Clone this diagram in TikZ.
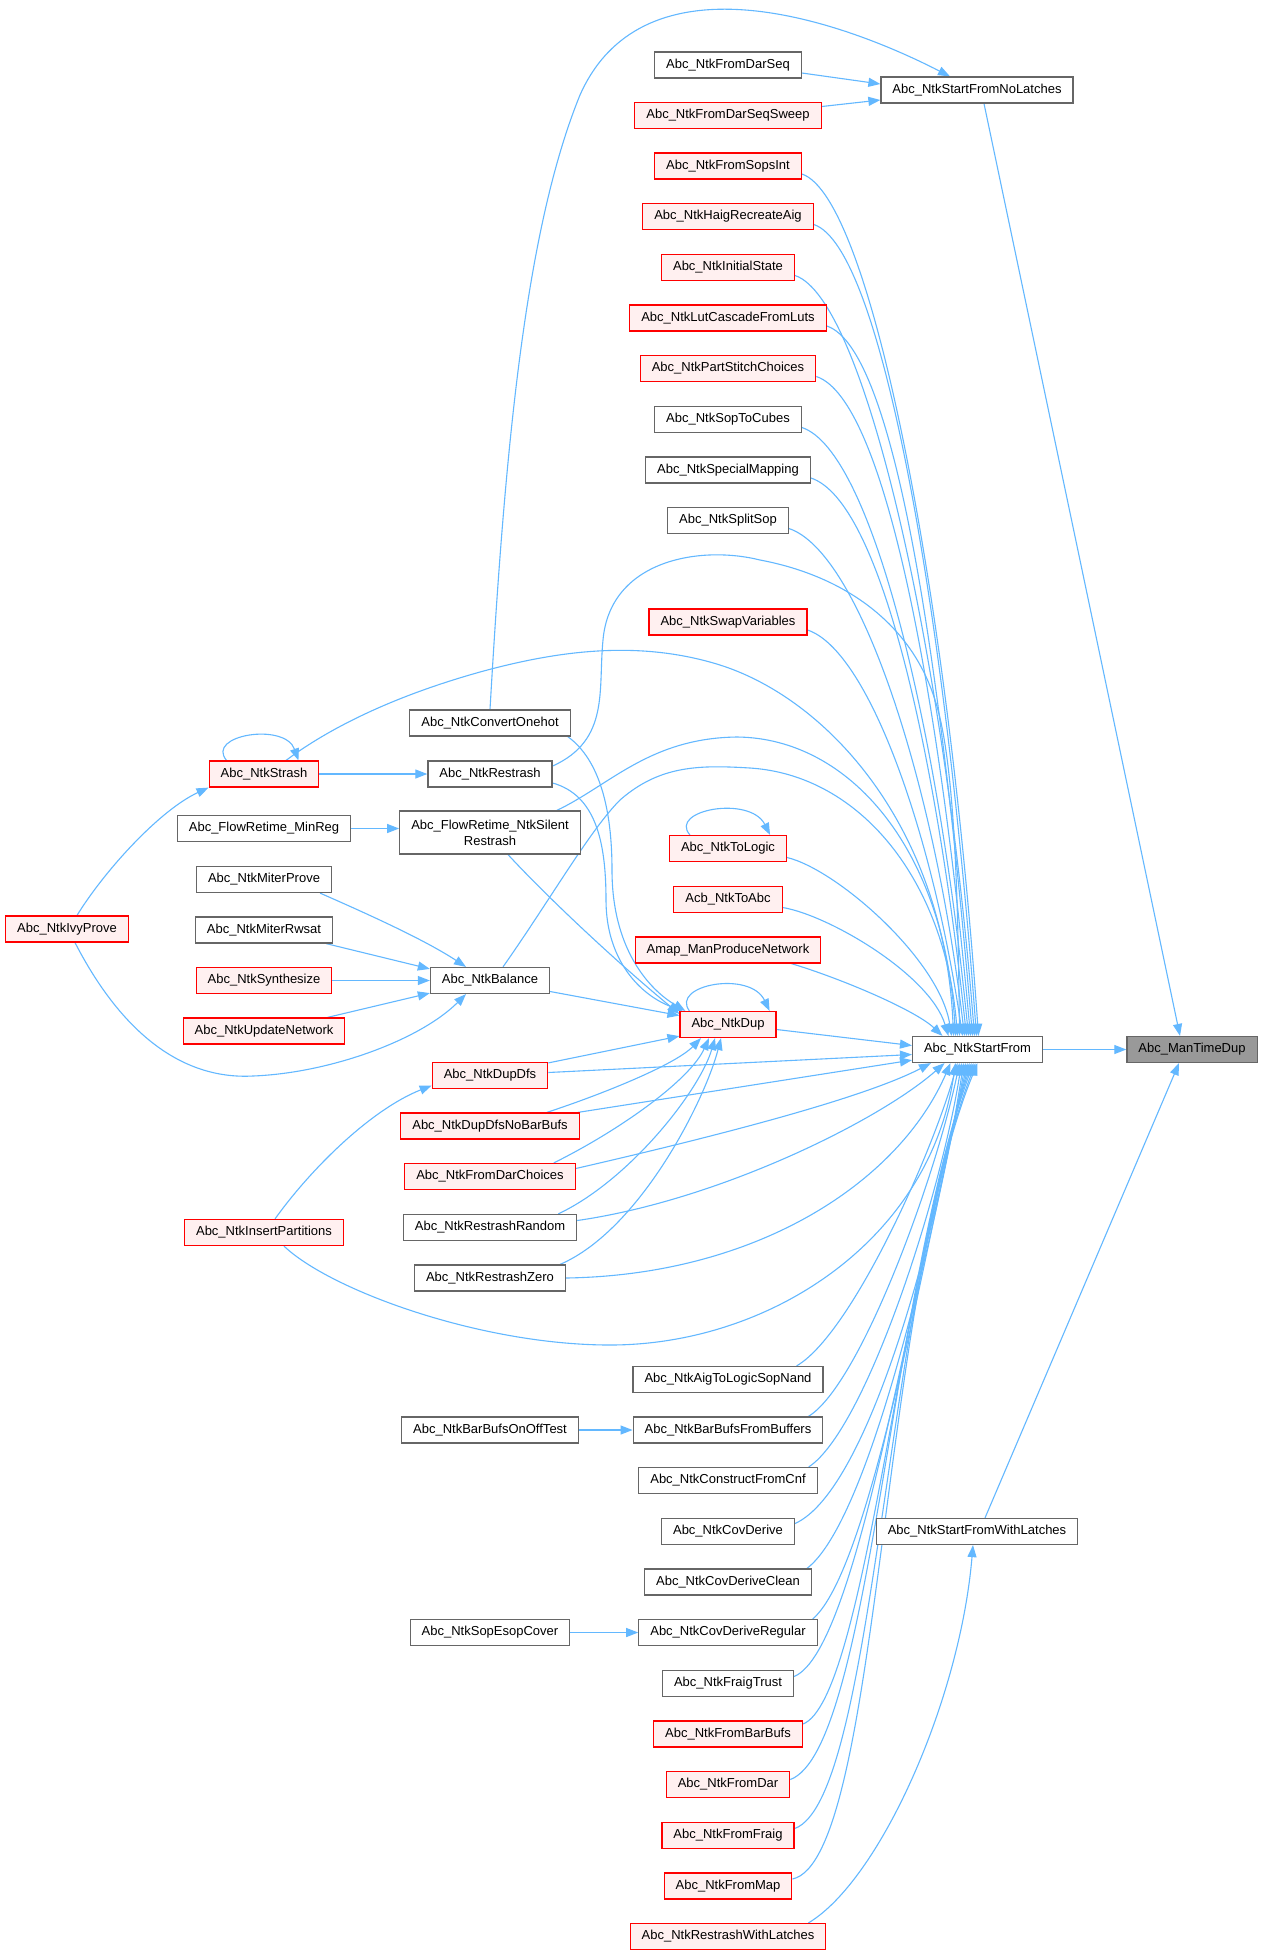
\documentclass[tikz,border=0pt]{standalone}
\usepackage{fontspec}
\setmainfont{Liberation Sans}
\usetikzlibrary{arrows.meta,calc}
\pgfdeclarelayer{bg}
\pgfsetlayers{bg,main}
\definecolor{edgec}{HTML}{63B8FF}
\definecolor{redb}{HTML}{FF0000}
\definecolor{redf}{HTML}{FFF0F0}
\definecolor{grayb}{HTML}{666666}
\definecolor{grayf}{HTML}{999999}
\begin{document}
\begin{tikzpicture}[x=1pt,y=-1pt,
 base/.style={rectangle, line width=1.2pt, minimum height=26pt, inner xsep=11.5pt, inner ysep=2pt,
   font=\fontsize{13}{16}\selectfont, text height=9.5pt, text depth=2.7pt, text=black},
 bn/.style={base, draw=grayb, fill=white},
 rn/.style={base, draw=redb, fill=redf},
 gn/.style={base, draw=grayb, fill=grayf},
 e/.style={draw=edgec, line width=1.1pt, -{Triangle[length=12pt,width=9pt]}}]
\begin{pgfonlayer}{bg}
\fill[white] (0,0) rectangle (1262,1955);
\end{pgfonlayer}
\useasboundingbox (0,0) rectangle (1262,1955);
% column A
\node[bn] (fdseq) at (728,65) {Abc\_NtkFromDarSeq};
\node[rn] (fdss) at (728,115.5) {Abc\_NtkFromDarSeqSweep};
\node[rn] (fsi) at (728,166) {Abc\_NtkFromSopsInt};
\node[rn] (hra) at (728,216.5) {Abc\_NtkHaigRecreateAig};
\node[rn] (ist) at (728,267.5) {Abc\_NtkInitialState};
\node[rn] (lut) at (728,318) {Abc\_NtkLutCascadeFromLuts};
\node[rn] (psc) at (728,368.5) {Abc\_NtkPartStitchChoices};
\node[bn] (stc) at (728,419.5) {Abc\_NtkSopToCubes};
\node[bn] (spm) at (728,470) {Abc\_NtkSpecialMapping};
\node[bn] (sps) at (728,520.5) {Abc\_NtkSplitSop};
\node[rn] (swv) at (728,622) {Abc\_NtkSwapVariables};
\node[rn] (tol) at (728,848.5) {Abc\_NtkToLogic};
\node[rn] (acb) at (728,899.5) {Acb\_NtkToAbc};
\node[rn] (amap) at (728,950) {Amap\_ManProduceNetwork};
\node[rn] (dup) at (728,1024.5) {Abc\_NtkDup};
\node[bn] (aig) at (728,1379.5) {Abc\_NtkAigToLogicSopNand};
\node[bn] (bbfb) at (728,1430) {Abc\_NtkBarBufsFromBuffers};
\node[bn] (cfc) at (728,1480.5) {Abc\_NtkConstructFromCnf};
\node[bn] (cov) at (728,1531.5) {Abc\_NtkCovDerive};
\node[bn] (covc) at (728,1582) {Abc\_NtkCovDeriveClean};
\node[bn] (covr) at (728,1632.5) {Abc\_NtkCovDeriveRegular};
\node[bn] (ftr) at (728,1683.5) {Abc\_NtkFraigTrust};
\node[rn] (fbb) at (728,1734) {Abc\_NtkFromBarBufs};
\node[rn] (fdar) at (728,1784.5) {Abc\_NtkFromDar};
\node[rn] (ffr) at (728,1835.5) {Abc\_NtkFromFraig};
\node[rn] (fmap) at (728,1886) {Abc\_NtkFromMap};
\node[rn] (rwl) at (728,1936.5) {Abc\_NtkRestrashWithLatches};
% column B, C
\node[bn] (snl) at (977,90) {Abc\_NtkStartFromNoLatches};
\node[bn] (sf) at (977.5,1049.5) {Abc\_NtkStartFrom};
\node[bn] (swl) at (977,1531.5) {Abc\_NtkStartFromWithLatches};
\node[gn] (mtd) at (1192,1049.5) {Abc\_ManTimeDup};
% column 3
\node[bn] (coh) at (490,723) {Abc\_NtkConvertOnehot};
\node[bn] (rst) at (490,774) {Abc\_NtkRestrash};
\node[bn, align=center, text height=, text depth=, minimum height=43pt] (frs) at (490,832.5) {Abc\_FlowRetime\_NtkSilent\\Restrash};
\node[bn] (bal) at (490,980.5) {Abc\_NtkBalance};
\node[rn] (ddfs) at (490,1075.5) {Abc\_NtkDupDfs};
\node[rn] (ddnb) at (490,1126) {Abc\_NtkDupDfsNoBarBufs};
\node[rn] (fdc) at (490,1176.5) {Abc\_NtkFromDarChoices};
\node[bn] (rrand) at (490,1227.5) {Abc\_NtkRestrashRandom};
\node[bn] (rzero) at (490,1278) {Abc\_NtkRestrashZero};
\node[bn] (bbot) at (490,1430) {Abc\_NtkBarBufsOnOffTest};
\node[bn] (sec) at (490,1632.5) {Abc\_NtkSopEsopCover};
% column 2
\node[rn] (str) at (264,774) {Abc\_NtkStrash};
\node[bn] (mreg) at (264,828.5) {Abc\_FlowRetime\_MinReg};
\node[bn] (mp) at (264,879.5) {Abc\_NtkMiterProve};
\node[bn] (mrw) at (264,930) {Abc\_NtkMiterRwsat};
\node[rn] (syn) at (264,980.5) {Abc\_NtkSynthesize};
\node[rn] (upd) at (264,1031) {Abc\_NtkUpdateNetwork};
\node[rn] (ins) at (264,1232.5) {Abc\_NtkInsertPartitions};
% column 1
\node[rn] (ivy) at (67,929) {Abc\_NtkIvyProve};

\begin{pgfonlayer}{bg}
% to ManTimeDup
\draw[e] ($(snl.south)+(7,0)$) -- ($(mtd.north)+(-12,0)$);
\draw[e] (sf.east) -- (mtd.west);
\draw[e] ($(swl.north)+(8,0)$) -- ($(mtd.south)+(-13,0)$);
% to StartFromNoLatches
\draw[e] ($(fdseq.east)+(0,8)$) -- ($(snl.west)+(0,-6)$);
\draw[e] ($(fdss.east)+(0,-9)$) -- ($(snl.west)+(0,10)$);
\draw[e] (coh.north) .. controls (505,450) and (525,230) .. (580,95) .. controls (640,-40) and (820,10) .. ($(snl.north)+(-27,0)$);
% upper column A to StartFrom
\draw[e] ($(fsi.east)+(0,8)$) .. controls +(70,23) and (948,600) .. ($(sf.north)+(1,0)$);
\draw[e] ($(hra.east)+(0,8)$) .. controls +(70,23) and (946,626) .. ($(sf.north)+(-1,0)$);
\draw[e] ($(ist.east)+(0,8)$) .. controls +(70,23) and (944,652) .. ($(sf.north)+(-3,0)$);
\draw[e] ($(lut.east)+(0,8)$) .. controls +(70,23) and (942,677) .. ($(sf.north)+(-5,0)$);
\draw[e] ($(psc.east)+(0,8)$) .. controls +(70,23) and (940,702) .. ($(sf.north)+(-7,0)$);
\draw[e] ($(stc.east)+(0,8)$) .. controls +(70,23) and (938,728) .. ($(sf.north)+(-9,0)$);
\draw[e] ($(spm.east)+(0,8)$) .. controls +(70,23) and (936,753) .. ($(sf.north)+(-11,0)$);
\draw[e] ($(sps.east)+(0,8)$) .. controls +(70,23) and (934,778) .. ($(sf.north)+(-13,0)$);
\draw[e] ($(swv.east)+(0,8)$) .. controls +(60,20) and (932,829) .. ($(sf.north)+(-15,0)$);
\draw[e] ($(tol.east)+(0,9)$) .. controls +(50,12) and (940,960) .. ($(sf.north)+(-26,0)$);
\draw[e] ($(acb.east)+(0,8)$) .. controls +(47,8) and (930,975) .. ($(sf.north)+(-29,0)$);
\draw[e] ($(amap.south east)+(-30,0)$) .. controls +(50,15) and (915,1010) .. ($(sf.north)+(-35,0)$);
% arcs from column 3 to StartFrom
\draw[e] ($(str.north)+(22,0)$) .. controls (320,735) and (380,700) .. (480,672) .. controls (560,650) and (640,640) .. (720,665) .. controls (830,700) and (945,830) .. ($(sf.north)+(-24,0)$);
\draw[e] ($(frs.north east)+(-24,0)$) .. controls (610,785) and (650,738) .. (737,737) .. controls (850,738) and (945,850) .. ($(sf.north)+(-22,0)$);
\draw[e] ($(bal.north)+(13,0)$) .. controls (550,900) and (590,830) .. (620,800) .. controls (660,765) and (700,765) .. (750,768) .. controls (860,775) and (945,880) .. ($(sf.north)+(-20,0)$);
\draw[e] ($(rst.east)+(0,-8)$) .. controls (610,740) and (598,690) .. (603,640) .. controls (610,560) and (700,545) .. (760,560) .. controls (840,575) and (910,620) .. (935,700) .. controls (955,760) and (958,900) .. ($(sf.north)+(-18,0)$);
% lower column 3 to StartFrom
\draw[e] ($(ddfs.east)+(0,-3)$) -- ($(sf.west)+(0,5)$);
\draw[e] ($(dup.east)+(0,5)$) -- ($(sf.west)+(0,-4)$);
\draw[e] ($(ddnb.north east)+(-2,0)$) -- ($(sf.south west)+(0,-3)$);
\draw[e] ($(fdc.east)+(0,-8)$) .. controls (700,1140) and (860,1100) .. ($(sf.south west)+(19,0)$);
\draw[e] ($(rrand.east)+(0,-7)$) .. controls (720,1200) and (880,1120) .. ($(sf.south)+(-33,0)$);
\draw[e] (rzero.east) .. controls (760,1275) and (900,1180) .. ($(sf.south)+(-27,0)$);
\draw[e] ($(ins.south)+(20,0)$) .. controls (330,1290) and (480,1345) .. (610,1345) .. controls (770,1345) and (930,1240) .. ($(sf.south)+(-22,0)$);
% lower column A to StartFrom
\draw[e] ($(aig.north east)+(-27,0)$) .. controls (850,1335) and (930,1160) .. ($(sf.south)+(-20,0)$);
\draw[e] ($(bbfb.north east)+(-15,0)$) .. controls (860,1385) and (935,1180) .. ($(sf.south)+(-18,0)$);
\draw[e] ($(cfc.north east)+(-9,0)$) .. controls (865,1430) and (940,1200) .. ($(sf.south)+(-16,0)$);
\draw[e] ($(cov.east)+(0,-8)$) .. controls (870,1490) and (940,1220) .. ($(sf.south)+(-14,0)$);
\draw[e] ($(covc.north east)+(-5,0)$) .. controls (870,1520) and (935,1230) .. ($(sf.south)+(-12,0)$);
\draw[e] ($(covr.north east)+(-5,0)$) .. controls (870,1570) and (925,1250) .. ($(sf.south)+(-10,0)$);
\draw[e] ($(ftr.east)+(0,-7)$) .. controls (860,1650) and (915,1260) .. ($(sf.south)+(-8,0)$);
\draw[e] ($(fbb.east)+(0,-10)$) .. controls (865,1700) and (900,1280) .. ($(sf.south)+(-6,0)$);
\draw[e] ($(fdar.east)+(0,-5)$) .. controls (870,1750) and (890,1290) .. ($(sf.south)+(-4,0)$);
\draw[e] ($(ffr.east)+(0,-7)$) .. controls (875,1800) and (885,1300) .. ($(sf.south)+(-2,0)$);
\draw[e] ($(fmap.east)+(0,-7)$) .. controls (880,1860) and (880,1300) .. (sf.south);
% into NtkDup
\draw[e] ($(bal.east)+(0,11)$) -- ($(dup.west)+(0,-9)$);
\draw[e] ($(frs.south)+(18,0)$) .. controls (550,900) and (620,965) .. ($(dup.north west)+(0,3)$);
\draw[e] ($(rst.east)+(0,9)$) .. controls (595,795) and (606,840) .. (606,900) .. controls (606,960) and (640,995) .. ($(dup.north west)+(3,0)$);
\draw[e] ($(coh.south east)+(-3,0)$) .. controls (600,760) and (612,810) .. (612,870) .. controls (612,950) and (650,990) .. ($(dup.north west)+(6,0)$);
\draw[e] ($(ddfs.north east)+(0,1)$) -- ($(dup.south west)+(0,-2)$);
\draw[e] ($(ddnb.north east)+(-33,0)$) .. controls (600,1095) and (675,1065) .. ($(dup.south)+(-27,0)$);
\draw[e] ($(fdc.north east)+(-22,0)$) .. controls (620,1130) and (690,1080) .. ($(dup.south)+(-19,0)$);
\draw[e] ($(rrand.north east)+(-19,0)$) .. controls (630,1180) and (700,1090) .. ($(dup.south)+(-13,0)$);
\draw[e] ($(rzero.north east)+(-6,0)$) .. controls (640,1230) and (705,1100) .. ($(dup.south)+(-7,0)$);
% self loops
\draw[e] ($(dup.north west)+(10,0)$) .. controls (670,985) and (750,970) .. ($(dup.north east)+(-7,0)$);
\draw[e] ($(tol.north west)+(21,0)$) .. controls (668,810) and (750,795) .. ($(tol.north east)+(-17,0)$);
\draw[e] ($(str.north west)+(18,0)$) .. controls (205,735) and (285,722) .. ($(str.north east)+(-21,0)$);
% left part
\draw[e] ($(ivy.north)+(10,0)$) .. controls (105,870) and (160,810) .. (str.south west);
\draw[e] ($(ivy.south)+(8,0)$) .. controls (120,1030) and (180,1080) .. (253,1076) .. controls (330,1073) and (420,1040) .. ($(bal.south)+(-24,0)$);
\draw[e] (str.east) -- (rst.west);
\draw[e] (mreg.east) -- (mreg.east -| frs.west);
\draw[e] ($(mp.south east)+(-12,0)$) .. controls (370,915) and (425,940) .. ($(bal.north)+(-24,0)$);
\draw[e] ($(mrw.south east)+(-7,0)$) -- ($(bal.north west)+(0,2)$);
\draw[e] (syn.east) -- (bal.west);
\draw[e] ($(upd.north east)+(-18,0)$) -- ($(bal.south west)+(0,-1)$);
\draw[e] ($(ins.north)+(11,0)$) .. controls (310,1170) and (370,1110) .. ($(ddfs.west)+(0,10)$);
\draw[e] (bbot.east) -- (bbfb.west);
\draw[e] (sec.east) -- (covr.west);
\draw[e] ($(rwl.north east)+(-18,0)$) .. controls (880,1880) and (960,1700) .. ($(swl.south)+(-4,0)$);
\end{pgfonlayer}
\end{tikzpicture}
\end{document}
